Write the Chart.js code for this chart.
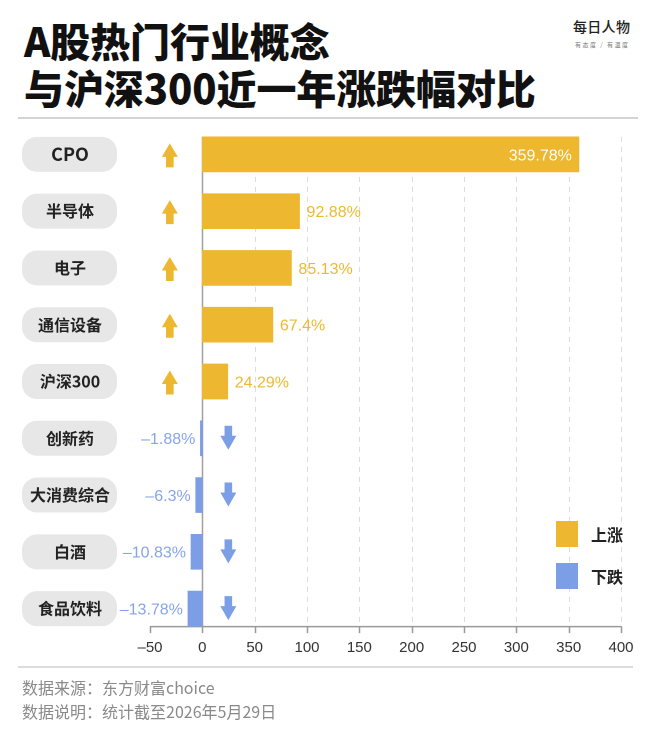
<!DOCTYPE html>
<html><head><meta charset="utf-8">
<script src="https://cdn.jsdelivr.net/npm/chart.js@4.4.1/dist/chart.umd.min.js"></script>
<style>
html,body{margin:0;padding:0;background:#fff;}
body{width:660px;height:735px;position:relative;overflow:hidden;font-family:"Noto Sans CJK SC","Noto Sans",sans-serif;}
#wrap{position:absolute;left:0;top:0;width:660px;height:735px;}
.title{position:absolute;left:24px;top:17px;font-size:40px;font-weight:900;line-height:47px;color:#111;letter-spacing:-0.1px;white-space:nowrap;}
.logo{position:absolute;left:573px;top:17px;font-size:14px;font-weight:500;line-height:18px;color:#222;letter-spacing:0.3px;}
.tag{position:absolute;left:575px;top:41px;font-size:6px;line-height:7px;color:#777;letter-spacing:1.5px;white-space:nowrap;}
.rule{position:absolute;height:2px;background:#d4d4d4;}
.lg{position:absolute;width:22px;height:26px;}
.lgt{position:absolute;font-size:16px;font-weight:700;color:#222;line-height:20px;}
.foot{position:absolute;left:22px;top:675px;font-size:16px;line-height:24px;color:#8a8a8a;}
</style></head>
<body>
<div class="title">A股热门行业概念<br>与沪深300近一年涨跌幅对比</div>
<div class="logo">每日人物</div>
<div class="tag">有态度 / 有温度</div>
<div class="rule" style="left:18px;top:117px;width:620px;"></div>
<div id="wrap"><canvas id="c"></canvas></div>
<div class="lg" style="left:556px;top:521px;background:#EDB72F;"></div>
<div class="lgt" style="left:591px;top:524px;">上涨</div>
<div class="lg" style="left:556px;top:563px;background:#7C9EE6;"></div>
<div class="lgt" style="left:591px;top:566px;">下跌</div>
<div class="rule" style="left:18px;top:666px;width:615px;background:#dcdcdc;"></div>
<div class="foot">数据来源：东方财富choice<br>数据说明：统计截至2026年5月29日</div>
<script>
const categories = ['CPO','半导体','电子','通信设备','沪深300','创新药','大消费综合','白酒','食品饮料'];
const changes = [359.78, 92.88, 85.13, 67.4, 24.29, -1.88, -6.3, -10.83, -13.78];
const xMin = -50, xMax = 400, xStep = 50;

const UP = '#EDB72F', DOWN = '#7C9EE6';
const UP_TXT = '#EDB931', DOWN_TXT = '#85A5E8';
const PILL = '#e7e7e7';
const BAR = 35;
const NUMFONT = '"Liberation Sans","Noto Sans CJK SC",sans-serif';
const fmt = v => String(v).replace('-', '\u2013');

function rr(ctx, x, y, w, h, r){
  ctx.beginPath();
  ctx.moveTo(x+r, y);
  ctx.lineTo(x+w-r, y); ctx.arcTo(x+w, y, x+w, y+r, r);
  ctx.lineTo(x+w, y+h-r); ctx.arcTo(x+w, y+h, x+w-r, y+h, r);
  ctx.lineTo(x+r, y+h); ctx.arcTo(x, y+h, x, y+h-r, r);
  ctx.lineTo(x, y+r); ctx.arcTo(x, y, x+r, y, r);
  ctx.closePath();
}

const deco = {
  id: 'deco',
  beforeDraw(chart){
    const {ctx, scales:{y}} = chart;
    ctx.save();
    ctx.fillStyle = PILL;
    categories.forEach((c, i) => {
      const cy = y.getPixelForValue(i);
      rr(ctx, 22, cy - BAR/2, 95, BAR, 15);
      ctx.fill();
    });
    ctx.restore();
  },
  beforeDatasetsDraw(chart){
    const {ctx, scales:{x, y}} = chart;
    const top = y.getPixelForValue(0) - BAR/2;
    const bottom = y.getPixelForValue(categories.length - 1) + BAR/2;
    ctx.save();
    ctx.strokeStyle = '#dcdcdc'; ctx.lineWidth = 1; ctx.setLineDash([5, 5]);
    x.ticks.forEach(t => {
      if (t.value > 0) {
        const px = Math.round(x.getPixelForValue(t.value)) + 0.5;
        ctx.beginPath(); ctx.moveTo(px, top); ctx.lineTo(px, bottom); ctx.stroke();
      }
    });
    ctx.setLineDash([]);
    const zx = Math.round(x.getPixelForValue(0)) + 0.5;
    ctx.strokeStyle = '#a0a0a0'; ctx.lineWidth = 1.5;
    ctx.beginPath(); ctx.moveTo(zx, top); ctx.lineTo(zx, bottom); ctx.stroke();
    ctx.strokeStyle = '#9a9a9a'; ctx.lineWidth = 1.5;
    ctx.beginPath(); ctx.moveTo(x.left, bottom + 0.5); ctx.lineTo(x.right, bottom + 0.5); ctx.stroke();
    x.ticks.forEach(t => {
      const px = Math.round(x.getPixelForValue(t.value)) + 0.5;
      ctx.beginPath(); ctx.moveTo(px, bottom); ctx.lineTo(px, bottom + 7); ctx.stroke();
    });
    ctx.restore();
  },
  afterDatasetsDraw(chart){
    const {ctx, scales:{x}, chartArea} = chart;
    const meta = chart.getDatasetMeta(0);
    const zx = x.getPixelForValue(0);
    ctx.save();
    ctx.font = '16px ' + NUMFONT;
    ctx.textBaseline = 'middle';
    meta.data.forEach((bar, i) => {
      const v = changes[i];
      const txt = fmt(v) + '%';
      const ty = bar.y + 1.5;
      if (v >= 0) {
        if (bar.x > chartArea.right - 80) {
          ctx.fillStyle = '#ffffff'; ctx.textAlign = 'right';
          ctx.fillText(txt, bar.x - 7, ty);
        } else {
          ctx.fillStyle = UP_TXT; ctx.textAlign = 'left';
          ctx.fillText(txt, bar.x + 7, ty);
        }
        const ax = zx - 32.5, cy = bar.y;
        ctx.fillStyle = UP;
        ctx.beginPath();
        ctx.moveTo(ax, cy - 11);
        ctx.lineTo(ax + 8, cy + 2.5);
        ctx.lineTo(ax + 3.8, cy + 2.5);
        ctx.lineTo(ax + 3.8, cy + 13);
        ctx.lineTo(ax - 3.8, cy + 13);
        ctx.lineTo(ax - 3.8, cy + 2.5);
        ctx.lineTo(ax - 8, cy + 2.5);
        ctx.closePath(); ctx.fill();
      } else {
        ctx.fillStyle = DOWN_TXT; ctx.textAlign = 'right';
        ctx.fillText(txt, bar.x - 5, ty);
        const ax = zx + 26, cy = bar.y;
        ctx.fillStyle = DOWN;
        ctx.beginPath();
        ctx.moveTo(ax, cy + 11.5);
        ctx.lineTo(ax + 8, cy - 2.5);
        ctx.lineTo(ax + 3.8, cy - 2.5);
        ctx.lineTo(ax + 3.8, cy - 12.5);
        ctx.lineTo(ax - 3.8, cy - 12.5);
        ctx.lineTo(ax - 3.8, cy - 2.5);
        ctx.lineTo(ax - 8, cy - 2.5);
        ctx.closePath(); ctx.fill();
      }
    });
    ctx.restore();
  }
};

new Chart(document.getElementById('c'), {
  type: 'bar',
  data: {
    labels: categories,
    datasets: [{
      data: changes,
      backgroundColor: changes.map(v => v >= 0 ? UP : DOWN),
      borderWidth: 0,
      barThickness: BAR
    }]
  },
  options: {
    indexAxis: 'y',
    responsive: true,
    maintainAspectRatio: false,
    animation: false,
    devicePixelRatio: 2,
    layout: { padding: { left: 0, top: 126, right: 39, bottom: 68 } },
    plugins: { legend: { display: false }, tooltip: { enabled: false } },
    scales: {
      x: {
        type: 'linear', min: xMin, max: xMax,
        grid: { display: false, drawTicks: false },
        border: { display: false },
        ticks: {
          stepSize: xStep, padding: 2, color: '#333',
          font: { size: 15, family: NUMFONT },
          callback: v => fmt(v)
        },
        afterFit: s => { s.height = 30; }
      },
      y: {
        grid: { display: false, drawTicks: false },
        border: { display: false },
        ticks: {
          crossAlign: 'center', padding: 40, color: '#222',
          font: c => ({ size: (c.index === 0 ? 18 : 16), weight: 'bold', family: '"Noto Sans CJK SC","Liberation Sans",sans-serif' })
        },
        afterFit: s => { s.width = 150; }
      }
    }
  },
  plugins: [deco]
});
</script>
</body></html>
